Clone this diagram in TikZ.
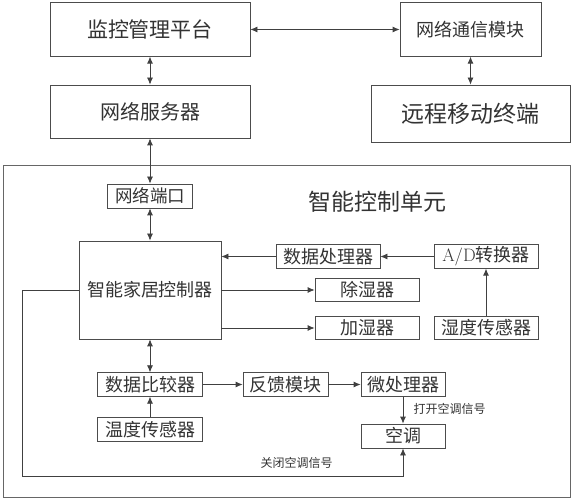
\documentclass[tikz,border=0pt]{standalone}
\usepackage{fontspec}
\newfontfamily\cjk{Noto Sans CJK SC}
\usetikzlibrary{arrows.meta}
\begin{document}
\begin{tikzpicture}[x=1pt, y=-1pt, >={Latex[length=7pt,width=6pt]},
        box/.style={draw=black!70, line width=0.8pt, inner sep=0pt, text=black!80,
            minimum width=104, minimum height=23.5, font=\cjk\fontsize{18}{18}\selectfont},
        sig/.style={text=black!80, font=\cjk\fontsize{12}{12}\selectfont},
        link/.style={draw=black!75, line width=0.8pt}]
\useasboundingbox (0,0) rectangle (574,500);

\node[draw=black!60, line width=0.8pt, minimum width=567, minimum height=332, inner sep=0pt] (unit) at (286.5,331) {};
\node[sig, font=\cjk\fontsize{23}{23}\selectfont] (title) at (377,202) {智能控制单元};

\node[box, minimum width=200, minimum height=53.5, font=\cjk\fontsize{21}{21}\selectfont] (platform) at (150,29.5) {监控管理平台};
\node[box, minimum width=141, minimum height=53.5] (comm) at (470.5,29.5) {网络通信模块};
\node[box, minimum width=200, minimum height=53, font=\cjk\fontsize{20}{20}\selectfont] (server) at (150,111.5) {网络服务器};
\node[box, minimum width=199, minimum height=57, font=\cjk\fontsize{23}{23}\selectfont] (remote) at (470.5,113.5) {远程移动终端};

\node[box, minimum width=85, minimum height=24, font=\cjk\fontsize{17.5}{17.5}\selectfont] (port) at (150,196) {网络端口};
\node[box, minimum width=142, minimum height=98] (ctrl) at (150,290) {智能家居控制器};
\node[box] (proc) at (328,256.5) {数据处理器};
\node[box] (adc) at (486,256.5) {\textrm{A/D}转换器};
\node[box] (dehum) at (367,290) {除湿器};
\node[box] (hum) at (367,328) {加湿器};
\node[box] (hsensor) at (486,328) {湿度传感器};

\node[box, minimum width=105] (cmp) at (150,384.5) {数据比较器};
\node[box, minimum width=105] (tsensor) at (150,429.5) {温度传感器};
\node[box, minimum width=85] (feedback) at (285.5,384.5) {反馈模块};
\node[box, minimum width=84] (mcu) at (403,384.5) {微处理器};
\node[box, minimum width=84, minimum height=24] (ac) at (403,436) {空调};
\node[sig] (onsig) at (449.5,409) {打开空调信号};
\node[sig] (offsig) at (296.5,463) {关闭空调信号};
\coordinate (corner) at (22,476);

\draw[link,<->] (platform) -- (comm);
\draw[link,<->] (platform) -- (server);
\draw[link,<->] (comm) -- (remote);
\draw[link,<->] (server) -- (port);
\draw[link,<->] (port) -- (ctrl);

\draw[link,->] (proc.west) -- (proc.west -| ctrl.east);
\draw[link,->] (adc) -- (proc);
\draw[link,->] (hsensor) -- (adc);
\draw[link,->] (ctrl.east) -- (dehum.west);
\draw[link,->] (hum.west -| ctrl.east) -- (hum);

\draw[link,<->] (ctrl) -- (cmp);
\draw[link,->] (tsensor) -- (cmp);
\draw[link,->] (cmp) -- (feedback);
\draw[link,->] (feedback) -- (mcu);
\draw[link,->] (mcu) -- (ac);
\draw[link,->] (ctrl.west) -| (corner) -| (ac.south);

\end{tikzpicture}
\end{document}
